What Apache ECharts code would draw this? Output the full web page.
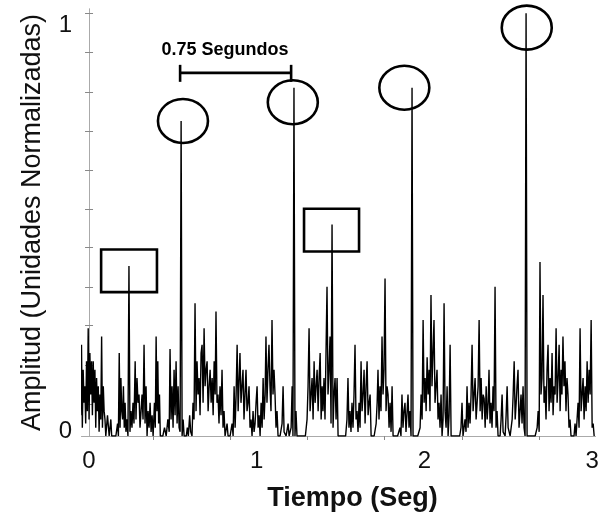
<!DOCTYPE html>
<html><head><meta charset="utf-8">
<script src="https://cdn.jsdelivr.net/npm/echarts@6/dist/echarts.min.js"></script>
<style>html,body{margin:0;padding:0;background:#fff}#c{width:602px;height:517px}</style>
</head><body><div id="c"></div>
<script>
// Sample times (s)
const tiempo = [
-0.050,-0.045,-0.040,-0.035,-0.030,-0.025,-0.020,-0.015,-0.010,-0.005,
0.000,0.005,0.010,0.015,0.020,0.025,0.030,0.035,0.040,0.045,0.050,0.055,0.060,0.065,0.070,0.075,0.080,0.085,0.090,0.095,
0.100,0.110,0.120,0.130,0.135,0.160,0.170,0.175,0.180,0.185,0.190,0.195,0.200,0.205,0.210,0.215,0.220,0.225,0.232,0.238,0.244,
0.250,0.256,0.262,0.268,0.275,0.280,0.286,0.292,0.298,0.304,0.310,0.316,0.322,0.328,0.334,0.340,0.346,0.352,0.358,0.364,0.370,0.376,0.382,0.390,0.395,
0.400,0.405,0.410,0.415,0.420,0.425,0.440,0.450,0.460,0.470,0.478,0.483,0.489,0.495,
0.501,0.507,0.513,0.519,0.525,0.531,0.537,0.543,0.549,0.555,0.561,0.567,0.580,0.586,0.592,
0.600,0.606,0.614,0.620,0.626,0.632,0.638,0.644,0.650,0.656,0.662,0.668,0.674,0.680,0.686,0.692,0.698,
0.704,0.710,0.716,0.722,0.728,0.734,0.740,0.746,0.752,0.757,0.763,0.769,0.775,0.781,0.787,0.793,0.799,
0.805,0.811,0.823,0.829,0.841,0.853,0.859,0.865,0.871,0.877,0.883,0.889,0.895,
0.900,0.906,0.912,0.918,0.924,0.930,0.936,0.942,0.948,0.954,0.960,0.966,0.972,0.978,0.984,0.990,0.996,
1.002,1.008,1.014,1.020,1.026,1.032,1.038,1.044,1.050,1.055,1.061,1.067,1.073,1.079,1.085,1.091,1.097,
1.103,1.109,1.115,1.121,1.127,1.139,1.151,1.157,1.163,1.175,1.187,1.193,
1.205,1.211,1.216,1.222,1.228,1.234,1.240,1.290,
1.300,1.306,1.312,1.318,1.324,1.330,1.336,1.342,1.348,1.354,1.360,1.366,1.372,1.378,1.384,1.390,1.395,
1.401,1.407,1.413,1.419,1.425,1.431,1.437,1.443,1.449,1.455,1.461,1.467,1.473,1.479,1.485,
1.530,1.538,1.544,1.550,1.556,1.562,1.568,1.574,1.580,1.586,1.592,1.598,
1.604,1.610,1.616,1.622,1.628,1.634,1.640,1.646,1.652,1.658,1.664,1.670,1.676,1.682,1.700,
1.712,1.718,1.723,1.729,1.735,1.741,1.747,1.753,1.759,1.765,1.771,1.777,1.783,1.789,1.795,
1.801,1.807,1.813,1.840,1.854,1.860,1.866,1.872,1.878,1.884,1.890,
1.902,1.908,1.914,1.920,1.926,1.932,1.960,1.974,1.980,1.986,1.992,1.998,
2.004,2.010,2.016,2.022,2.028,2.033,2.039,2.045,2.051,2.057,2.063,2.069,2.075,2.081,2.087,2.093,2.099,
2.105,2.111,2.117,2.123,2.129,2.135,2.141,2.147,2.153,2.159,
2.210,2.218,2.224,2.230,2.242,2.248,2.254,2.260,2.266,2.272,2.278,2.284,2.290,2.296,
2.302,2.308,2.314,2.320,2.326,2.332,2.338,2.344,2.350,2.356,2.362,2.368,2.374,2.380,2.385,2.391,2.397,
2.403,2.409,2.415,2.421,2.427,2.433,2.439,2.451,2.457,2.463,2.469,2.481,2.487,2.493,2.499,
2.511,2.523,2.529,2.535,2.541,2.547,2.552,2.558,2.564,2.570,2.576,2.582,2.588,2.594,
2.600,2.606,2.612,2.660,2.672,2.678,2.684,2.689,2.695,
2.701,2.707,2.713,2.719,2.725,2.731,2.737,2.743,2.749,2.755,2.761,2.767,2.773,2.779,2.785,2.791,2.797,
2.803,2.809,2.815,2.820,2.826,2.832,2.838,2.844,2.850,2.856,2.862,2.868,2.874,2.892,2.898,
2.904,2.910,2.916,2.922,2.928,2.934,2.940,2.946,2.952,2.958,2.964,2.970,2.976,2.982,2.988,2.994,
3.000,3.006,3.012
];
// Normalized amplitude
const amplitud = [
0.05,0.22,0.02,0.16,0.08,0.12,0.03,0.18,0.06,0.26,
0.04,0.20,0.10,0.18,0.05,0.18,0.08,0.16,0.02,0.14,0.06,0.12,0.01,0.10,0.04,0.24,0.02,0.12,0.06,0.04,
0.00,0.05,0.00,0.04,0.00,0.00,0.03,0.00,0.20,0.02,0.14,0.06,0.04,0.12,0.02,0.08,0.01,0.04,0.00,0.41,0.01,
0.06,0.02,0.08,0.03,0.18,0.04,0.14,0.08,0.10,0.02,0.06,0.10,0.04,0.22,0.03,0.12,0.00,0.06,0.02,0.08,0.01,0.05,0.00,0.08,0.02,
0.24,0.06,0.18,0.03,0.10,0.00,0.00,0.02,0.00,0.04,0.01,0.21,0.04,0.12,
0.02,0.16,0.05,0.18,0.03,0.12,0.02,0.01,0.76,0.00,0.04,0.00,0.00,0.02,0.00,
0.05,0.01,0.00,0.08,0.04,0.32,0.06,0.18,0.10,0.14,0.05,0.20,0.22,0.08,0.26,0.12,0.16,
0.18,0.06,0.12,0.16,0.08,0.14,0.05,0.18,0.10,0.30,0.08,0.10,0.03,0.12,0.05,0.16,0.02,
0.06,0.00,0.03,0.00,0.00,0.03,0.00,0.12,0.02,0.10,0.22,0.06,0.14,
0.20,0.08,0.12,0.16,0.04,0.10,0.16,0.06,0.08,0.12,0.02,0.04,0.00,0.06,0.01,0.03,0.08,
0.12,0.02,0.05,0.00,0.08,0.02,0.14,0.04,0.10,0.24,0.08,0.16,0.22,0.12,0.06,0.28,0.10,
0.16,0.10,0.02,0.06,0.00,0.00,0.03,0.12,0.01,0.00,0.03,0.00,
0.02,0.12,0.00,0.84,0.00,0.06,0.00,0.00,
0.04,0.12,0.26,0.06,0.10,0.14,0.04,0.18,0.08,0.12,0.16,0.06,0.14,0.20,0.04,0.12,0.06,
0.14,0.04,0.20,0.36,0.10,0.16,0.24,0.03,0.51,0.02,0.10,0.14,0.04,0.14,0.00,
0.00,0.04,0.14,0.02,0.06,0.01,0.08,0.02,0.10,0.22,0.04,0.06,
0.01,0.08,0.02,0.18,0.06,0.10,0.16,0.03,0.12,0.18,0.05,0.08,0.10,0.00,0.00,
0.03,0.08,0.16,0.04,0.12,0.06,0.24,0.10,0.16,0.38,0.06,0.12,0.10,0.02,0.08,
0.01,0.12,0.00,0.00,0.02,0.00,0.10,0.02,0.06,0.08,0.01,
0.10,0.02,0.06,0.00,0.84,0.00,0.00,0.02,0.10,0.04,0.28,0.08,
0.14,0.06,0.19,0.10,0.16,0.06,0.34,0.12,0.20,0.28,0.08,0.12,0.16,0.04,0.08,0.02,0.10,
0.00,0.04,0.32,0.06,0.02,0.12,0.00,0.05,0.22,0.00,
0.00,0.02,0.08,0.00,0.04,0.01,0.12,0.02,0.08,0.03,0.10,0.22,0.06,0.10,
0.14,0.04,0.08,0.12,0.28,0.06,0.14,0.04,0.10,0.09,0.02,0.12,0.04,0.08,0.16,0.03,0.08,
0.02,0.12,0.06,0.36,0.02,0.06,0.00,0.00,0.04,0.10,0.01,0.00,0.05,0.12,0.02,
0.00,0.04,0.10,0.18,0.04,0.08,0.12,0.16,0.02,0.06,0.10,0.03,0.12,0.02,
0.00,1.02,0.00,0.00,0.02,0.06,0.01,0.42,0.10,
0.14,0.34,0.08,0.12,0.04,0.16,0.22,0.06,0.14,0.08,0.20,0.05,0.12,0.10,0.26,0.08,0.14,
0.22,0.06,0.16,0.10,0.24,0.12,0.18,0.06,0.14,0.10,0.02,0.04,0.00,0.00,0.03,
0.00,0.04,0.08,0.02,0.26,0.06,0.10,0.14,0.04,0.12,0.06,0.18,0.08,0.16,0.10,0.28,
0.02,0.03,0.00
];
const etiquetasX = [0, 1, 2, 3];
const etiquetasY = ['0', '1'];
const posEtiquetasY = [0.012, 0.99];
const ticksArriba = [0.382, 0.841, 1.300, 1.759, 2.224, 2.683];
const ticksLado = [0.077, 0.170, 0.266, 0.359, 0.455, 0.548, 0.641, 0.734, 0.830, 0.926, 1.019];
// annotations (data coords)
const circulos = [[0.56, 0.76], [1.215, 0.805], [1.88, 0.84], [2.61, 0.985]];
const cajas = [[[0.072, 0.45], [0.405, 0.347]], [[1.282, 0.548], [1.610, 0.445]]];
const corchete = {desde: 0.543, hasta: 1.205, nivel: 0.876, texto: '0.75 Segundos', tx: 0.811, ty: 0.932};

const FONT = '"Liberation Sans", Arial, sans-serif';
const chart = echarts.init(document.getElementById('c'), null, {renderer: 'canvas'});
const data = tiempo.map((t, i) => [t, amplitud[i]]);
const XMIN = -0.042, XMAX = 3.017, YMIN = 0, YMAX = 1.03;
const option = {
  animation: false,
  backgroundColor: '#fff',
  grid: {left: 82, right: 7, top: 9, bottom: 78},
  xAxis: [{
    type: 'value', min: XMIN, max: XMAX, position: 'bottom',
    axisLine: {lineStyle: {color: '#444', width: 1}},
    axisTick: {show: false}, splitLine: {show: false},
    axisLabel: {customValues: etiquetasX, fontSize: 24, color: '#111', fontFamily: FONT, margin: 13},
    name: 'Tiempo (Seg)', nameLocation: 'middle', nameGap: 49,
    nameTextStyle: {fontSize: 27, fontWeight: 'bold', color: '#111', fontFamily: FONT, padding: [0, 0, 0, 28]}
  }, {
    type: 'value', min: XMIN, max: XMAX, position: 'top',
    axisLine: {show: true, lineStyle: {color: '#aaa', width: 1}},
    axisTick: {show: true, inside: true, length: 4, customValues: ticksArriba, lineStyle: {color: '#888'}},
    axisLabel: {show: false}, splitLine: {show: false}
  }],
  yAxis: [{
    type: 'value', min: YMIN, max: YMAX, position: 'left',
    axisLine: {show: true, lineStyle: {color: '#aaa', width: 1}},
    axisTick: {show: true, inside: true, length: 4, customValues: ticksLado, lineStyle: {color: '#888'}},
    splitLine: {show: false},
    axisLabel: {customValues: posEtiquetasY, formatter: v => etiquetasY[posEtiquetasY.indexOf(v)] ?? '', fontSize: 24, color: '#111', fontFamily: FONT, margin: 10},
    name: 'Amplitud (Unidades Normalizadas)', nameLocation: 'middle', nameGap: 36,
    nameTextStyle: {fontSize: 27, color: '#111', fontFamily: FONT}
  }, {
    type: 'value', min: YMIN, max: YMAX, position: 'right',
    axisLine: {show: true, lineStyle: {color: '#aaa', width: 1}},
    axisTick: {show: true, inside: true, length: 4, customValues: ticksLado, lineStyle: {color: '#888'}},
    axisLabel: {show: false}, splitLine: {show: false}
  }],
  series: [{
    type: 'line', data: data, xAxisIndex: 0, yAxisIndex: 0,
    showSymbol: false, symbol: 'none',
    lineStyle: {color: '#000', width: 1.4}, z: 3
  }]
};
chart.setOption(option);

function px(p) { return chart.convertToPixel({xAxisIndex: 0, yAxisIndex: 0}, p); }
const S = {fill: 'none', stroke: '#000', lineWidth: 2.6};
const g = [];
circulos.forEach(c => {
  const p = px(c);
  g.push({type: 'ellipse', shape: {cx: p[0], cy: p[1], rx: 25, ry: 22}, style: S, z: 10});
});
cajas.forEach(b => {
  const a = px(b[0]), d = px(b[1]);
  g.push({type: 'rect', shape: {x: a[0], y: a[1], width: d[0] - a[0], height: d[1] - a[1]}, style: S, z: 10});
});
const l = px([corchete.desde, corchete.nivel]), r = px([corchete.hasta, corchete.nivel]);
g.push({type: 'line', shape: {x1: l[0], y1: l[1], x2: r[0], y2: r[1]}, style: S, z: 10});
g.push({type: 'line', shape: {x1: l[0], y1: l[1] - 8, x2: l[0], y2: l[1] + 9}, style: S, z: 10});
g.push({type: 'line', shape: {x1: r[0], y1: r[1] - 8, x2: r[0], y2: r[1] + 9}, style: S, z: 10});
const tp = px([corchete.tx, corchete.ty]);
g.push({type: 'text', x: tp[0], y: tp[1], z: 10,
  style: {text: corchete.texto, font: 'bold 18px ' + FONT, fill: '#000', textAlign: 'center', textVerticalAlign: 'middle'}});
chart.setOption({graphic: g});
</script>
</body></html>
